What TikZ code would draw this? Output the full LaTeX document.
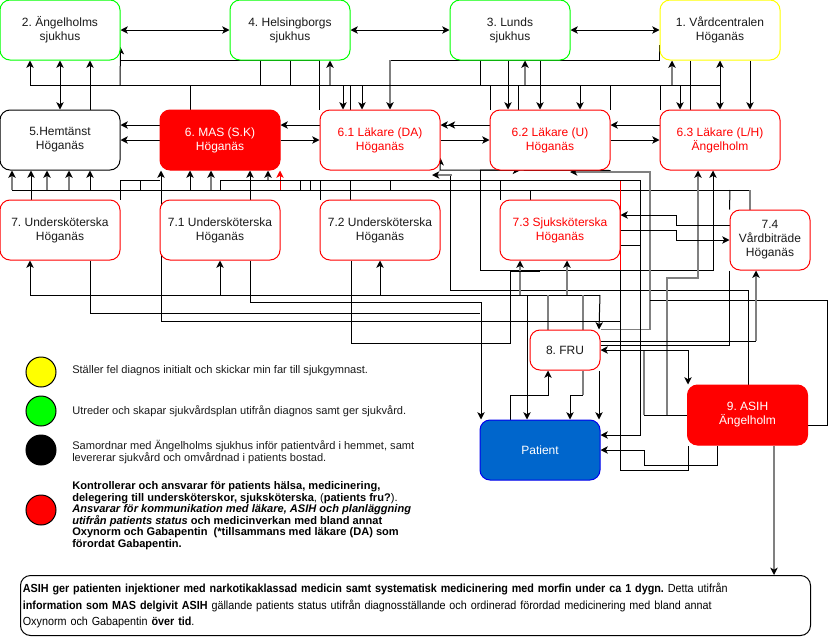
\documentclass[tikz,border=0pt]{standalone}
\usepackage{fontspec}
\setmainfont{Liberation Sans}
\newfontfamily\narrowfont[FakeStretch=0.92]{Liberation Sans}
\usetikzlibrary{arrows.meta}
\pgfdeclarelayer{bg}
\pgfsetlayers{bg,main}
\definecolor{cgreen}{HTML}{00FF00}
\definecolor{cyellow}{HTML}{FFFF00}
\definecolor{cred}{HTML}{FF0000}
\definecolor{cblue}{HTML}{0066CC}
\definecolor{cblueb}{HTML}{0000EE}
\definecolor{cgray}{HTML}{808080}
\definecolor{ctext}{HTML}{1A1A1A}
\frenchspacing
\begin{document}
\begin{tikzpicture}[x=0.75pt,y=-0.75pt,
  >={Stealth[length=5.5pt,width=5.5pt,inset=1.5pt]},
  box/.style={draw,rectangle,rounded corners=7.5pt,minimum width=90pt,minimum height=45pt,line width=0.75pt,align=center,inner sep=1pt,fill=white,text=ctext,font=\fontsize{9}{10.5}\selectfont},
  ln/.style={line width=0.75pt,draw=black},
  ar/.style={ln,->},
  dar/.style={ln,<->},
  gl/.style={line width=1.4pt,draw=cgray},
  gar/.style={gl,-{Stealth[length=5.5pt,width=5.5pt,inset=1.5pt,color=black]}},
  lg/.style={anchor=west,inner sep=0pt,align=left,text=ctext,font=\fontsize{8.3}{8.6}\selectfont},
  dot/.style={circle,draw=black,line width=0.75pt,minimum size=22.5pt,inner sep=0pt}
]
\useasboundingbox (0,0) rectangle (836,636);

% ---------- nodes ----------
\node[box,draw=cgreen] (n2) at (60,30) {2. Ängelholms\\sjukhus};
\node[box,draw=cgreen] (n4) at (290,30) {4. Helsingborgs\\sjukhus};
\node[box,draw=cgreen] (n3) at (510,30) {3. Lunds\\sjukhus};
\node[box,draw=cyellow] (n1) at (720,30) {1. Vårdcentralen\\Höganäs};
\node[box,draw=black] (n5) at (60,140) {5.Hemtänst\\Höganäs};
\node[box,draw=cred,fill=cred,text=white] (n6) at (220,140) {6. MAS (S.K)\\Höganäs};
\node[box,draw=cred,text=cred] (n61) at (380,140) {6.1 Läkare (DA)\\Höganäs};
\node[box,draw=cred,text=cred] (n62) at (550,140) {6.2 Läkare (U)\\Höganäs};
\node[box,draw=cred,text=cred] (n63) at (720,140) {6.3 Läkare (L/H)\\Ängelholm};
\node[box,draw=cred] (n7) at (60,230) {7. Undersköterska\\Höganäs};
\node[box,draw=cred] (n71) at (220,230) {7.1 Undersköterska\\Höganäs};
\node[box,draw=cred] (n72) at (380,230) {7.2 Undersköterska\\Höganäs};
\node[box,draw=cred,text=cred] (n73) at (560,230) {7.3 Sjuksköterska\\Höganäs};
\node[box,draw=cred,minimum width=60pt] (n74) at (770,240) {7.4\\Vårdbiträde\\Höganäs};
\node[box,draw=cred,minimum width=52.5pt,minimum height=30pt] (n8) at (565,350) {8. FRU};
\node[box,draw=cred,fill=cred,text=white] (n9) at (747.5,415) {9. ASIH\\Ängelholm};
\node[box,draw=cblueb,fill=cblue,text=white] (n10) at (540,450) {Patient};

% ---------- legend ----------
\node[dot,fill=cyellow] (c1) at (41,372) {};
\node[dot,fill=cgreen] (c2) at (41,411) {};
\node[dot,fill=black] (c3) at (41,450) {};
\node[dot,fill=cred] (c4) at (41,510) {};
\node[lg] (t1) at (72,371) {Ställer fel diagnos initialt och skickar min far till sjukgymnast.};
\node[lg] (t2) at (72,411) {Utreder och skapar sjukvårdsplan utifrån diagnos samt ger sjukvård.};
\node[lg] (t3) at (72,452) {Samordnar med Ängelholms sjukhus inför patientvård i hemmet, samt\\levererar sjukvård och omvårdnad i patients bostad.};
\node[lg,text=black] (t4) at (72,515.5) {\textbf{Kontrollerar och ansvarar för patients hälsa, medicinering,}\\
\textbf{delegering till undersköterskor, sjuksköterska}, (\textbf{patients fru?}).\\
\textbf{\textit{Ansvarar för kommunikation med läkare, ASIH och planläggning}}\\
\textbf{\textit{utifrån patients status} och medicinverkan med bland annat}\\
\textbf{Oxynorm och Gabapentin\ \ (*tillsammans med läkare (DA) som}\\
\textbf{förordat Gabapentin.}};

% ---------- bottom box ----------
\node[draw=black,line width=0.75pt,rounded corners=7.5pt,anchor=north west,minimum width=592.5pt,minimum height=45pt,text width=589pt,inner xsep=1.5pt,inner ysep=2pt,align=left,text=black,font=\narrowfont\fontsize{8.8}{12.6}\selectfont] (nb) at (20,575)
{\textbf{ASIH ger patienten injektioner med narkotikaklassad medicin samt systematisk medicinering med morfin under ca 1 dygn.} Detta utifrån\\
\textbf{information som MAS delgivit ASIH} gällande patients status utifrån diagnosställande och ordinerad förordad medicinering med bland annat\\
Oxynorm och Gabapentin \textbf{över tid}.};

% ---------- connectors ----------
\begin{pgfonlayer}{bg}
% top row
\draw[dar] (n2.east) -- (n4.west);
\draw[dar] (n4.east) -- (n3.west);
\draw[dar] (n3.east) -- (n1.west);
% y=60 lines
\draw[ln] (n61.north west) |- (120,60);
\draw[ln] (n1.west |- 0,45) |- (390,60);
\draw[gar] (390,60) -- (n61.north -| 390,0);
% bus y=85
\draw[ar] (720,85) -| (n2.south -| 30,0);
\draw[ar] (120,85) -- (n2.east |- 0,47);
\draw[dar] (n5.north -| 60,0) -- (n2.south -| 60,0);
\draw[ar] (n5.north -| 90,0) -- (n2.south -| 90,0);
\draw[ln] (190,85) -- (n6.north -| 190,0);
\draw[ln] (n4.south -| 260,0) -- (260,85);
\draw[ln] (n4.south -| 290,0) -- (290,85);
\draw[gar] (330,85) -- (n4.south -| 330,0);
\draw[ar] (343,85) -- (n61.north -| 343,0);
\draw[ln] (350,85) -- (n61.north -| 350,0);
\draw[ar] (362,85) -- (n61.north -| 362,0);
\draw[ln] (n3.south -| 480,0) -- (480,85);
\draw[ln] (490,85) -- (n62.north -| 490,0);
\draw[ar] (n3.south -| 508,0) -- (n62.north -| 508,0);
\draw[ln] (518,85) -- (n62.north -| 518,0);
\draw[gar] (525,85) -- (n3.south -| 525,0);
\draw[ar] (n3.south -| 540,0) -- (n62.north -| 540,0);
\draw[ar] (580,85) -- (n62.north -| 580,0);
\draw[ln] (610,85) -- (n62.north -| 610,0);
\draw[ln] (660,85) -- (n63.north -| 660,0);
\draw[gar] (672,85) -- (n1.south -| 672,0);
\draw[ar] (680,85) -- (n63.north -| 680,0);
\draw[ln] (n1.south -| 690,0) -- (n63.north -| 690,0);
\draw[dar] (n1.south) -- (n63.north);
\draw[ar] (n1.south -| 750,0) -- (n63.north -| 750,0);
% row 2 horizontals
\draw[ar] (n6.west |- 0,125) -- (n5.east |- 0,125);
\draw[ar] (n6.west |- 0,140) -- (n5.east |- 0,140);
\draw[ar] (n61.west |- 0,125) -- (n6.east |- 0,125);
\draw[ar] (n6.east |- 0,140) -- (n61.west |- 0,140);
\draw[ln,-{Stealth[length=5.5pt,width=5.5pt,inset=1.5pt]Stealth[length=5.5pt,width=5.5pt,inset=1.5pt]}] (n62.west |- 0,125) -- (n61.east |- 0,125);
\draw[ar] (n61.east |- 0,140) -- (n62.west |- 0,140);
\draw[ar] (n63.west |- 0,125) -- (n62.east |- 0,125);
\draw[ar] (n62.east |- 0,140) -- (n63.west |- 0,140);
% band y=170-200
\draw[ln] (12,190) -- (750,190);
\draw[gl] (750,190) -- (n74.north -| 750,0);
\draw[gar] (12,190) -- (n5.south -| 12,0);
\draw[ar] (n7.north -| 31,0) -- (n5.south -| 31,0);
\draw[gar] (47,190) -- (n5.south -| 47,0);
\draw[gar] (69,190) -- (n5.south -| 69,0);
\draw[ar] (90,190) -- (n5.south -| 90,0);
\draw[ln] (n7.north east) |- (160,180);
\draw[ln] (140,180) -- (140,190);
\draw[ar] (190,190) -- (n6.south -| 190,0);
\draw[gar] (211,190) -- (n6.south -| 211,0);
\draw[ar] (n71.north -| 250,0) -- (n6.south -| 250,0);
\draw[gar] (268,180) -- (n6.south -| 268,0);
\draw[line width=0.75pt,draw=cred,-{Stealth[length=5.5pt,width=5.5pt,inset=1.5pt]}] (280,190) -- (n6.south -| 280,0);
\draw[ln] (220,190) |- (620,180);
\draw[ln] (300,180) -- (300,190);
\draw[ln] (310,180) -- (310,190);
\draw[ln] (320,180) -- (n72.north -| 320,0);
\draw[ln] (350,180) -- (n72.north -| 350,0);
\draw[ln] (390,180) -- (390,190);
\draw[ln] (500,180) -- (n73.north -| 500,0);
\draw[ln] (530,190) -- (n73.north -| 530,0);
\draw[ar] (n62.south east) -- (440,170) -- (n61.east |- 0,158);
\draw[ar] (480,170) -- (n62.south -| 520,0);
\draw[ar] (480,170) |- (713,270) -- (n63.south -| 713,0);
\draw[ln] (450,290) -- (450,175);
\draw[gar] (452,175) -- (432,175);
\draw[ln] (n9.north -| 748,0) |- (450,290);
\draw[gar] (n8.north east) -| (650,172) -- (570,172);
\draw[ln] (650,300) -| (827,425) -- (n9.east |- 0,425);
\draw[line width=0.75pt,draw=cred] (620,180) -- (620,270);
\draw[ln] (620,270) |- (688,470) -- (n9.south -| 688,0);
\draw[ar] (620,180) -- (640,180) |- (n10.east |- 0,435);
\draw[ar] (n9.south -| 717,0) |- (644,465) |- (n10.east |- 0,450);
\draw[gl] (644,350) -- (644,415);
\draw[ln] (644,415) -- (n9.west);
\draw[gar] (667,415) |- (698,278) -- (n63.south -| 698,0);
% 7.3 <-> 7.4
\draw[ar] (n74.west |- 0,225) -| (676,215) -- (n73.east |- 0,215);
\draw[ar] (n73.east |- 0,230) -| (676,240) -- (n74.west |- 0,240);
\draw[ln] (n73.east |- 0,245) -- (640,245);
\draw[ln] (730,190) -- (n74.north west);
\draw[ln] (n74.south west) |- (n8.east |- 0,345);
\draw[ln] (n8.east |- 0,341) -- (756,341);
\draw[gar] (756,341) -- (n74.south -| 756,0);
\draw[dar] (n8.east) -| (n9.north -| 688,0);
% bus y=295
\draw[ln] (30,295) -- (600,295);
\draw[ar] (30,295) -- (n7.south -| 30,0);
\draw[ar] (220,295) -- (n71.south -| 220,0);
\draw[ar] (380,295) -- (n72.south -| 380,0);
\draw[gar] (520,295) -- (n73.south -| 520,0);
\draw[gar] (567,295) -- (n73.south -| 567,0);
\draw[gl] (548,295) -- (n8.north -| 548,0);
\draw[gl] (583,295) -- (n8.north -| 583,0);
\draw[ar] (600,295) -- (n8.north -| 599,0);
% left lines to patient / MAS
\draw[ln] (n7.south -| 90,0) |- (480,313);
\draw[ar] (n71.south -| 250,0) |- (481,302) -- (n10.north -| 481,0);
\draw[ar] (620,321) -- (161,321) -- (n6.south -| 161,0);
\draw[ln] (n72.south -| 351,0) |- (510,343) -- (510,271) -- (540,271);
% patient <-> FRU
\draw[ar] (n10.north -| 510,0) |- (548,395) -- (n8.south -| 548,0);
\draw[gl] (n8.south -| 583,0) -- (583,395);
\draw[ar] (583,395) -| (n10.north -| 570,0);
\draw[ar] (527,295) -- (n10.north -| 527,0);
\draw[ar] (n8.south -| 599,0) -- (n10.north -| 599,0);
% ASIH -> bottom box
\draw[gar] (n9.south -| 774,0) -- (nb.north -| 774,0);
\end{pgfonlayer}
\end{tikzpicture}
\end{document}
